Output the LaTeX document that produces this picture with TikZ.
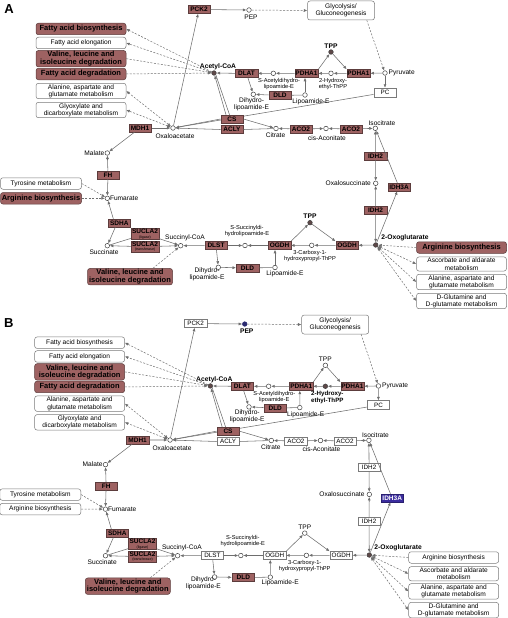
\documentclass[tikz,border=0pt]{standalone}
\usepackage{fontspec}
\setmainfont{Liberation Sans}
\usetikzlibrary{arrows.meta,backgrounds}
\definecolor{hitred}{HTML}{9E6262}
\definecolor{hitedge}{HTML}{5C3C3C}
\definecolor{boxedge}{HTML}{7A7A7A}
\definecolor{linegray}{HTML}{6E6E6E}
\definecolor{idhblue}{HTML}{3B2C9E}
\definecolor{pepnavy}{HTML}{2A2A70}
\definecolor{cpdfill}{HTML}{5E4848}
\newcommand{\enzsub}[1]{{\fontsize{3.6}{4}\selectfont\mdseries #1}}
\tikzset{
  % panel 1 takes the first style, panel 2 the second
  pick/.code 2 args={\ifnum\p=1 \pgfkeysalso{#1}\else\pgfkeysalso{#2}\fi},
  gene/.style={
    rectangle,
    draw=boxedge,
    fill=white,
    line width=0.5pt,
    minimum width=22.5pt,
    minimum height=8pt,
    inner sep=0.6pt,
    align=center,
    font=\fontsize{6.3}{7}\selectfont
  },
  gplain/.style={gene},
  ghit/.style={gene, fill=hitred, draw=hitedge, font=\fontsize{6.5}{7}\selectfont\bfseries},
  gblue/.style={gene, fill=idhblue, draw=idhblue!70!black, text=white, font=\fontsize{6.5}{7}\selectfont\bfseries},
  pbox/.style={
    rectangle,
    rounded corners=2.5pt,
    draw=boxedge,
    fill=white,
    line width=0.5pt,
    minimum width=90pt,
    minimum height=11.5pt,
    inner xsep=1pt,
    inner ysep=1pt,
    align=center,
    font=\fontsize{6.6}{7.3}\selectfont
  },
  pboxhit/.style={pbox, fill=hitred, draw=hitedge, font=\fontsize{7.5}{7.4}\selectfont\bfseries},
  cpd/.style={circle, draw=black!75, fill=white, line width=0.5pt, inner sep=0pt, minimum size=4.6pt},
  cpdhit/.style={cpd, fill=cpdfill},
  cpdnavy/.style={cpd, fill=pepnavy, draw=pepnavy},
  lbl/.style={inner sep=0pt, align=center, font=\fontsize{6.6}{7.2}\selectfont},
  lblb/.style={lbl, font=\fontsize{6.7}{7.4}\selectfont\bfseries},
  sublbl/.style={inner sep=0pt, align=center, font=\fontsize{5.7}{6.3}\selectfont},
  sublblb/.style={sublbl, font=\fontsize{6.2}{6.9}\selectfont\bfseries},
  ptag/.style={inner sep=0pt, font=\fontsize{13}{13}\selectfont\bfseries},
  rxn/.style={-{Latex[length=3.5pt,width=3pt]}, draw=linegray, line width=0.55pt},
  rxnline/.style={draw=linegray, line width=0.55pt},
  dashlink/.style={-{Latex[length=3.5pt,width=3pt]}, draw=linegray, line width=0.5pt, dash pattern=on 2pt off 1.5pt},
  dashboth/.style={dashlink, {Latex[length=3.5pt,width=3pt]}-{Latex[length=3.5pt,width=3pt]}}
}
\begin{document}
\begin{tikzpicture}[x=1pt, y=-1pt]
\useasboundingbox (0,0) rectangle (507,618);

\foreach \p/\dy/\sc in {1/0/1, 2/314.2/0.983} {
\begin{scope}[shift={(0,\dy)}, scale=\sc, name prefix=p\p-]

\node[ptag] (tag) at (9,9) {\ifnum\p=1 A\else B\fi};

% maps linked to the cycle
\node[pick={pboxhit}{pbox}] (fab) at (81,29) {Fatty acid biosynthesis};
\node[pbox] (fae) at (81,43) {Fatty acid elongation};
\node[pboxhit] (vld) at (81,58.7) {Valine, leucine and\\isoleucine degradation};
\node[pboxhit] (fad) at (81,74) {Fatty acid degradation};
\node[pbox] (ala) at (81,91) {Alanine, aspartate and\\glutamate metabolism};
\node[pbox] (gly) at (81,110) {Glyoxylate and\\dicarboxylate metabolism};
\node[pbox, minimum width=67pt, minimum height=19pt] (glyc) at (341,10.5) {Glycolysis/\\Gluconeogenesis};
\node[pbox, minimum width=81pt] (tyr) at (41,183.5) {Tyrosine metabolism};
\node[pick={pboxhit}{pbox}, minimum width=81pt] (argl) at (41,198.3) {Arginine biosynthesis};
\node[pboxhit, minimum width=85pt] (vldb) at (130,276.7) {Valine, leucine and\\isoleucine degradation};
\node[pick={pboxhit}{pbox}] (argr) at (461.5,247.5) {Arginine biosynthesis};
\node[pbox] (asc) at (461.5,264) {Ascorbate and aldarate\\metabolism};
\node[pbox] (alar) at (461.5,282) {Alanine, aspartate and\\glutamate metabolism};
\node[pbox] (dglu) at (461.5,301) {D-Glutamine and\\D-glutamate metabolism};

% enzymes
\node[pick={ghit}{gplain}] (pck2) at (199,9.5) {PCK2};
\node[ghit] (mdh1) at (140,128) {MDH1};
\node[ghit] (cs) at (232,119) {CS};
\node[pick={ghit}{gplain}] (acly) at (232,129.5) {ACLY};
\node[ghit] (dlat) at (246.5,73.5) {DLAT};
\node[ghit] (pdhl) at (306.5,73.5) {PDHA1};
\node[ghit] (pdhr) at (358.5,73.5) {PDHA1};
\node[ghit] (dldu) at (280,95.5) {DLD};
\node[gplain, minimum height=9pt] (pc) at (385,92.5) {PC};
\node[pick={ghit}{gplain}] (aco2l) at (301,129) {ACO2};
\node[pick={ghit}{gplain}] (aco2r) at (351,129) {ACO2};
\node[pick={ghit}{gplain}] (idh2u) at (375.5,156) {IDH2};
\node[pick={ghit}{gplain}] (idh2l) at (375.5,210.5) {IDH2};
\node[pick={ghit}{gblue}] (idh3a) at (399,187) {IDH3A};
\node[pick={ghit}{gplain}] (ogdhr) at (347,245.5) {OGDH};
\node[pick={ghit}{gplain}] (ogdhl) at (279.5,245.5) {OGDH};
\node[pick={ghit}{gplain}] (dlst) at (216,245.5) {DLST};
\node[ghit] (dldl) at (247.5,268) {DLD};
\node[ghit, minimum width=28pt, minimum height=11pt, inner sep=0.3pt] (sucla2a) at (145,234) {SUCLA2\\[-2.6pt]\enzsub{(ligase)}};
\node[ghit, minimum width=28pt, minimum height=11pt, inner sep=0.3pt] (sucla2b) at (145,246.7) {SUCLA2\\[-2.6pt]\enzsub{(transferase)}};
\node[ghit] (sdha) at (119.3,223) {SDHA};
\node[ghit] (fh) at (108,175) {FH};

% compounds
\node[pick={cpd}{cpdnavy}] (pep) at (249,10) {};
\node[cpdhit] (acoa) at (214,73) {};
\node[cpd] (oaa) at (173,128) {};
\node[cpd] (malate) at (107.3,153) {};
\node[cpd] (fum) at (107.3,198.3) {};
\node[cpd] (succ) at (107.3,245.7) {};
\node[cpd] (succoa) at (180.7,245.7) {};
\node[cpd] (ssucc) at (245,245.5) {};
\node[cpd] (dihl) at (218.3,267.3) {};
\node[cpd] (lipl) at (275,267.5) {};
\node[pick={cpdhit}{cpd}] (tppl) at (310,222.7) {};
\node[cpd] (carb) at (311.7,245.3) {};
\node[cpdhit] (oxo) at (375.7,245) {};
\node[cpd] (oxs) at (375.7,183.3) {};
\node[cpd] (isoc) at (375.3,128.3) {};
\node[cpd] (cisa) at (326,128.5) {};
\node[cpd] (cit) at (276,128.5) {};
\node[cpd] (pyr) at (385,73) {};
\node[pick={cpd}{cpdhit}] (hyd) at (331,73.3) {};
\node[pick={cpdhit}{cpd}] (tppu) at (331,52) {};
\node[cpd] (sac) at (273.3,73.3) {};
\node[cpd] (dihu) at (253.3,94.3) {};
\node[cpd] (lipu) at (305,95) {};

% compound names
\node[pick={lbl}{lblb}] (pepl) at (251,17.5) {PEP};
\node[lblb] (acoal) at (218,66.3) {Acetyl-CoA};
\node[lbl] (oaal) at (175,136) {Oxaloacetate};
\node[lbl, anchor=east] (malatel) at (104.5,153) {Malate};
\node[lbl, anchor=west] (fuml) at (109.8,198.3) {Fumarate};
\node[lbl] (succl) at (104,252.3) {Succinate};
\node[lbl] (succoal) at (185,237.3) {Succinyl-CoA};
\node[sublbl] (ssuccl) at (247,231) {S-Succinyldi-\\hydrolipoamide-E};
\node[lbl] (dihll) at (207,274) {Dihydro-\\lipoamide-E};
\node[lbl] (lipll) at (285,273.3) {Lipoamide-E};
\node[pick={lblb}{lbl}] (tppll) at (310,216.3) {TPP};
\node[sublbl] (carbl) at (310,256) {3-Carboxy-1-\\hydroxypropyl-ThPP};
\node[lblb] (oxol) at (405,238) {2-Oxoglutarate};
\node[lbl, anchor=east] (oxsl) at (371,183.3) {Oxalosuccinate};
\node[lbl] (isocl) at (382,122.7) {Isocitrate};
\node[lbl] (cisal) at (327,137.7) {cis-Aconitate};
\node[lbl] (citl) at (275.5,135.5) {Citrate};
\node[lbl, anchor=west] (pyrl) at (388.5,73) {Pyruvate};
\node[pick={sublbl}{sublblb}] (hydl) at (333,84.2) {2-Hydroxy-\\ethyl-ThPP};
\node[pick={lblb}{lbl}] (tppul) at (331,45.8) {TPP};
\node[sublbl] (sacl) at (279,84) {S-Acetyldihydro-\\lipoamide-E};
\node[lbl] (dihul) at (251.5,104) {Dihydro-\\lipoamide-E};
\node[lbl] (lipul) at (311,102) {Lipoamide-E};

% links to other maps
\draw[dashlink] (acoa) -- (fab.east);
\draw[dashlink] (acoa) -- (fae.east);
\draw[dashlink] (vld.east) -- (acoa);
\draw[dashlink] (fad.east) -- (acoa);
\draw[dashboth] (oaa) -- (ala.east);
\draw[dashboth] (oaa) -- (gly.east);
\draw[dashlink] (pep) -- (glyc.west);
\draw[dashlink] ([xshift=-8pt]glyc.south east) -- (pyr);
\draw[dashlink] (tyr.east) -- (fum);
\draw[dashlink] (argl.east) -- (fum);
\draw[dashlink] ([xshift=23pt]vldb.north) -- (succoa);
\draw[dashlink] (argr.west) -- (oxo);
\draw[dashboth] (oxo) -- (asc.west);
\draw[dashboth] (oxo) -- (alar.west);
\draw[dashboth] (oxo) -- (dglu.west);

% reactions
\draw[rxn] (oaa) -- (pck2);
\draw[rxn] (pck2) -- (pep);
\draw[rxn] (mdh1) -- (oaa);
\draw[rxn] (mdh1) -- (malate);
\begin{scope}[on background layer]
\draw[rxn] (pc) -- (oaa);
\end{scope}
\draw[rxn] (pyr) -- (pc);
\draw[rxn] (pyr) -- (pdhr);
\draw[rxn] (pdhr) -- (hyd);
\draw[rxn] (hyd) -- (pdhl);
\draw[rxn] (pdhl.north east) -- (tppu);
\draw[rxn] (tppu) -- (pdhr.north west);
\draw[rxn] (pdhl) -- (sac);
\draw[rxn] (sac) -- (dlat);
\draw[rxn] (dlat) -- (acoa);
\draw[rxn] (dlat) -- (dihu);
\draw[rxn] (dldu) -- (dihu);
\draw[rxnline] (lipu) -- (dldu);
\draw[rxn] (lipu) -- (lipu |- pdhl.south);
\draw[rxn] ([xshift=-6pt]cs.north) -- (acoa);
\draw[rxnline] ([xshift=-2.5pt]cs.north) -- (acoa.south east);
\draw[rxnline] (oaa) -- (cs.west);
\draw[rxn] (cs.east) -- (cit);
\draw[rxn] (acly.west) -- (oaa);
\draw[rxnline] (cit) -- (acly.east);
\draw[rxn] (aco2l) -- (cit);
\draw[rxn] (aco2l) -- (cisa);
\draw[rxn] (aco2r) -- (cisa);
\draw[rxn] (aco2r) -- (isoc);
\draw[rxn] (idh2u) -- (isoc);
\draw[rxn] (idh2u) -- (oxs);
\draw[rxn] (idh2l) -- (oxs);
\draw[rxn] (idh2l) -- (oxo);
\draw[rxn] (idh3a) -- (isoc);
\draw[rxn] (oxo) -- (idh3a);
\draw[rxn] (oxo) -- (ogdhr);
\draw[rxn] (ogdhr) -- (carb);
\draw[rxn] (carb) -- (ogdhl);
\draw[rxn] (ogdhl.north east) -- (tppl);
\draw[rxn] (tppl) -- (ogdhr.north west);
\draw[rxn] (ogdhl) -- (ssucc);
\draw[rxn] (dlst) -- (ssucc);
\draw[rxn] (dlst) -- (succoa);
\draw[rxn] (dlst) -- (dihl);
\draw[rxn] (dihl) -- (dldl);
\draw[rxnline] (dldl) -- (lipl);
\draw[rxn] (lipl) -- (lipl |- ogdhl.south);
\draw[rxnline] (succ) -- (sucla2a);
\draw[rxn] (sucla2a) -- (succoa);
\draw[rxn] (sucla2b) -- (succ);
\draw[rxn] (sucla2b) -- (succoa);
\draw[rxn] ([xshift=-6pt]sdha.north) -- (fum);
\draw[rxn] ([xshift=-4pt]sdha.south) -- (succ);
\draw[rxn] (fh) -- (malate);
\draw[rxn] (fh) -- (fum);

\end{scope}
}

\end{tikzpicture}
\end{document}
